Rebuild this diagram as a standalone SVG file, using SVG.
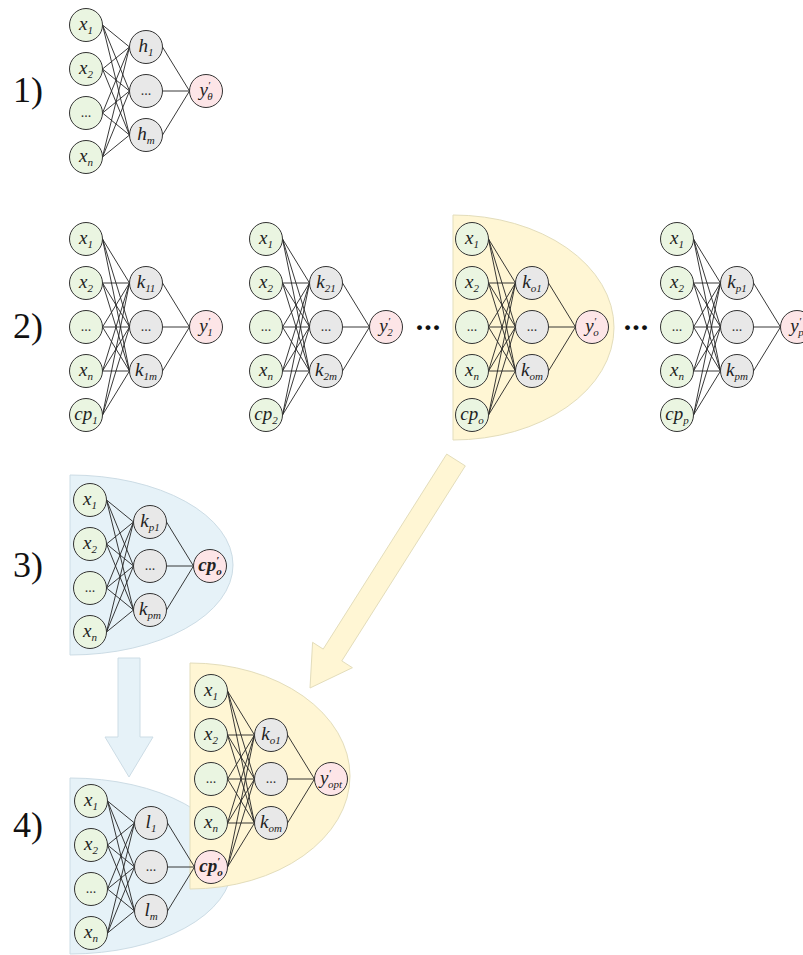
<svg xmlns="http://www.w3.org/2000/svg" xmlns:xlink="http://www.w3.org/1999/xlink" width="803" height="955" viewBox="0 0 803 955">
<style>
.ni{fill:#EAF5E1;stroke:#333;stroke-width:1}
.nh{fill:#E8E8E8;stroke:#333;stroke-width:1}
.no{fill:#FDE5E7;stroke:#333;stroke-width:1}
text{font-family:"Times New Roman","Liberation Serif",Tinos,"Noto Serif","DejaVu Serif",serif}
.t{font-style:italic;font-size:19px;text-anchor:middle;fill:#222}
.s{font-size:11px}
.b{font-weight:bold}
.d{font-size:14px;text-anchor:middle;fill:#333}
.num{font-size:36px;fill:#111}
.bd{font-size:30px;font-weight:bold;text-anchor:middle;fill:#111;letter-spacing:1px}
.ry{fill:#FFF6D4;stroke:#E3DDBB;stroke-width:1}
.rb{fill:#E6F2F8;stroke:#CCDCE5;stroke-width:1}
</style>
<defs>
<path id="netA" d="M102.5 25L129.5 47M102.5 25L129.5 91M102.5 25L129.5 135M102.5 69L129.5 47M102.5 69L129.5 91M102.5 69L129.5 135M102.5 113L129.5 47M102.5 113L129.5 91M102.5 113L129.5 135M102.5 157L129.5 47M102.5 157L129.5 91M102.5 157L129.5 135M162.5 47L189.5 91M162.5 91L189.5 91M162.5 135L189.5 91"/>
<path id="netB" d="M102.5 239L129.5 283M102.5 239L129.5 327M102.5 239L129.5 371M102.5 283L129.5 283M102.5 283L129.5 327M102.5 283L129.5 371M102.5 327L129.5 283M102.5 327L129.5 327M102.5 327L129.5 371M102.5 371L129.5 283M102.5 371L129.5 327M102.5 371L129.5 371M102.5 415L129.5 283M102.5 415L129.5 327M102.5 415L129.5 371M162.5 283L189.5 327M162.5 327L189.5 327M162.5 371L189.5 327"/>
</defs>
<rect width="803" height="955" fill="#fff"/>

<g id="regions">
<path id="region-2o" class="ry" d="M453 215A161 112.5 0 0 1 453 440Z"/>
<path id="region-3" class="rb" d="M70 475A163 90 0 0 1 70 655Z"/>
<path id="region-4b" class="rb" d="M70 778A162 88 0 0 1 70 954Z"/>
<path id="region-4y" class="ry" d="M190 663A160 113 0 0 1 190 889Z"/>
<polygon id="arrow-yellow" class="ry" points="446.7,454.1 465.3,465.9 341.8,660.9 352.4,667.7 310,688 312.6,642.3 323.2,649.1"/>
<polygon id="arrow-blue" class="rb" points="118,658 140,658 140,737 153,737 129,777 105,737 118,737"/>
</g>

<g id="labels">
<text class="num" x="13" y="102">1)</text>
<text class="num" x="13" y="338">2)</text>
<text class="num" x="13" y="577">3)</text>
<text class="num" x="13" y="837">4)</text>
<text class="bd" x="428.5" y="330">...</text>
<text class="bd" x="636.5" y="330">...</text>
</g>

<g id="connectors" fill="none" stroke="#222" stroke-width="0.9">
<use href="#netA"/>
<use href="#netB"/>
<use href="#netB" x="180"/>
<use href="#netB" x="386"/>
<use href="#netB" x="591"/>
<use href="#netA" x="4" y="475"/>
<use href="#netA" x="5" y="776"/>
<use href="#netB" x="125" y="452"/>
</g>

<g id="nodes">
<!-- Section 1 -->
<g id="s1-x1"><circle class="ni" cx="86" cy="25" r="16.5"/><text class="t" x="86" y="30">x<tspan class="s" dy="4">1</tspan></text></g>
<g id="s1-x2"><circle class="ni" cx="86" cy="69" r="16.5"/><text class="t" x="86" y="74">x<tspan class="s" dy="4">2</tspan></text></g>
<g id="s1-xd"><circle class="ni" cx="86" cy="113" r="16.5"/><text class="d" x="86" y="117">...</text></g>
<g id="s1-xn"><circle class="ni" cx="86" cy="157" r="16.5"/><text class="t" x="86" y="162">x<tspan class="s" dy="4">n</tspan></text></g>
<g id="s1-h1"><circle class="nh" cx="146" cy="47" r="16.5"/><text class="t" x="146" y="52">h<tspan class="s" dy="4">1</tspan></text></g>
<g id="s1-hd"><circle class="nh" cx="146" cy="91" r="16.5"/><text class="d" x="146" y="95">...</text></g>
<g id="s1-hm"><circle class="nh" cx="146" cy="135" r="16.5"/><text class="t" x="146" y="140">h<tspan class="s" dy="4">m</tspan></text></g>
<g id="s1-y"><circle class="no" cx="206" cy="91" r="16.5"/><text class="t" x="206" y="96">y<tspan class="s" dy="-7">′</tspan><tspan class="s" dx="-3" dy="11">θ</tspan></text></g>

<!-- Row 2, network 1 -->
<g id="n1-x1"><circle class="ni" cx="86" cy="239" r="16.5"/><text class="t" x="86" y="244">x<tspan class="s" dy="4">1</tspan></text></g>
<g id="n1-x2"><circle class="ni" cx="86" cy="283" r="16.5"/><text class="t" x="86" y="288">x<tspan class="s" dy="4">2</tspan></text></g>
<g id="n1-xd"><circle class="ni" cx="86" cy="327" r="16.5"/><text class="d" x="86" y="331">...</text></g>
<g id="n1-xn"><circle class="ni" cx="86" cy="371" r="16.5"/><text class="t" x="86" y="376">x<tspan class="s" dy="4">n</tspan></text></g>
<g id="n1-cp"><circle class="ni" cx="86" cy="415" r="16.5"/><text class="t" x="86" y="420">cp<tspan class="s" dy="4">1</tspan></text></g>
<g id="n1-k1"><circle class="nh" cx="146" cy="283" r="16.5"/><text class="t" x="146" y="288">k<tspan class="s" dy="4">11</tspan></text></g>
<g id="n1-kd"><circle class="nh" cx="146" cy="327" r="16.5"/><text class="d" x="146" y="331">...</text></g>
<g id="n1-km"><circle class="nh" cx="146" cy="371" r="16.5"/><text class="t" x="146" y="376">k<tspan class="s" dy="4">1m</tspan></text></g>
<g id="n1-y"><circle class="no" cx="206" cy="327" r="16.5"/><text class="t" x="206" y="332">y<tspan class="s" dy="-7">′</tspan><tspan class="s" dx="-3" dy="11">1</tspan></text></g>

<!-- Row 2, network 2 -->
<g id="n2-x1"><circle class="ni" cx="266" cy="239" r="16.5"/><text class="t" x="266" y="244">x<tspan class="s" dy="4">1</tspan></text></g>
<g id="n2-x2"><circle class="ni" cx="266" cy="283" r="16.5"/><text class="t" x="266" y="288">x<tspan class="s" dy="4">2</tspan></text></g>
<g id="n2-xd"><circle class="ni" cx="266" cy="327" r="16.5"/><text class="d" x="266" y="331">...</text></g>
<g id="n2-xn"><circle class="ni" cx="266" cy="371" r="16.5"/><text class="t" x="266" y="376">x<tspan class="s" dy="4">n</tspan></text></g>
<g id="n2-cp"><circle class="ni" cx="266" cy="415" r="16.5"/><text class="t" x="266" y="420">cp<tspan class="s" dy="4">2</tspan></text></g>
<g id="n2-k1"><circle class="nh" cx="326" cy="283" r="16.5"/><text class="t" x="326" y="288">k<tspan class="s" dy="4">21</tspan></text></g>
<g id="n2-kd"><circle class="nh" cx="326" cy="327" r="16.5"/><text class="d" x="326" y="331">...</text></g>
<g id="n2-km"><circle class="nh" cx="326" cy="371" r="16.5"/><text class="t" x="326" y="376">k<tspan class="s" dy="4">2m</tspan></text></g>
<g id="n2-y"><circle class="no" cx="386" cy="327" r="16.5"/><text class="t" x="386" y="332">y<tspan class="s" dy="-7">′</tspan><tspan class="s" dx="-3" dy="11">2</tspan></text></g>

<!-- Row 2, network o -->
<g id="no-x1"><circle class="ni" cx="472" cy="239" r="16.5"/><text class="t" x="472" y="244">x<tspan class="s" dy="4">1</tspan></text></g>
<g id="no-x2"><circle class="ni" cx="472" cy="283" r="16.5"/><text class="t" x="472" y="288">x<tspan class="s" dy="4">2</tspan></text></g>
<g id="no-xd"><circle class="ni" cx="472" cy="327" r="16.5"/><text class="d" x="472" y="331">...</text></g>
<g id="no-xn"><circle class="ni" cx="472" cy="371" r="16.5"/><text class="t" x="472" y="376">x<tspan class="s" dy="4">n</tspan></text></g>
<g id="no-cp"><circle class="ni" cx="472" cy="415" r="16.5"/><text class="t" x="472" y="420">cp<tspan class="s" dy="4">o</tspan></text></g>
<g id="no-k1"><circle class="nh" cx="532" cy="283" r="16.5"/><text class="t" x="532" y="288">k<tspan class="s" dy="4">o1</tspan></text></g>
<g id="no-kd"><circle class="nh" cx="532" cy="327" r="16.5"/><text class="d" x="532" y="331">...</text></g>
<g id="no-km"><circle class="nh" cx="532" cy="371" r="16.5"/><text class="t" x="532" y="376">k<tspan class="s" dy="4">om</tspan></text></g>
<g id="no-y"><circle class="no" cx="592" cy="327" r="16.5"/><text class="t" x="592" y="332">y<tspan class="s" dy="-7">′</tspan><tspan class="s" dx="-3" dy="11">o</tspan></text></g>

<!-- Row 2, network p -->
<g id="np-x1"><circle class="ni" cx="677" cy="239" r="16.5"/><text class="t" x="677" y="244">x<tspan class="s" dy="4">1</tspan></text></g>
<g id="np-x2"><circle class="ni" cx="677" cy="283" r="16.5"/><text class="t" x="677" y="288">x<tspan class="s" dy="4">2</tspan></text></g>
<g id="np-xd"><circle class="ni" cx="677" cy="327" r="16.5"/><text class="d" x="677" y="331">...</text></g>
<g id="np-xn"><circle class="ni" cx="677" cy="371" r="16.5"/><text class="t" x="677" y="376">x<tspan class="s" dy="4">n</tspan></text></g>
<g id="np-cp"><circle class="ni" cx="677" cy="415" r="16.5"/><text class="t" x="677" y="420">cp<tspan class="s" dy="4">p</tspan></text></g>
<g id="np-k1"><circle class="nh" cx="737" cy="283" r="16.5"/><text class="t" x="737" y="288">k<tspan class="s" dy="4">p1</tspan></text></g>
<g id="np-kd"><circle class="nh" cx="737" cy="327" r="16.5"/><text class="d" x="737" y="331">...</text></g>
<g id="np-km"><circle class="nh" cx="737" cy="371" r="16.5"/><text class="t" x="737" y="376">k<tspan class="s" dy="4">pm</tspan></text></g>
<g id="np-y"><circle class="no" cx="797" cy="327" r="16.5"/><text class="t" x="797" y="332">y<tspan class="s" dy="-7">′</tspan><tspan class="s" dx="-3" dy="11">p</tspan></text></g>

<!-- Section 3 -->
<g id="s3-x1"><circle class="ni" cx="90" cy="500" r="16.5"/><text class="t" x="90" y="505">x<tspan class="s" dy="4">1</tspan></text></g>
<g id="s3-x2"><circle class="ni" cx="90" cy="544" r="16.5"/><text class="t" x="90" y="549">x<tspan class="s" dy="4">2</tspan></text></g>
<g id="s3-xd"><circle class="ni" cx="90" cy="588" r="16.5"/><text class="d" x="90" y="592">...</text></g>
<g id="s3-xn"><circle class="ni" cx="90" cy="632" r="16.5"/><text class="t" x="90" y="637">x<tspan class="s" dy="4">n</tspan></text></g>
<g id="s3-k1"><circle class="nh" cx="150" cy="522" r="16.5"/><text class="t" x="150" y="527">k<tspan class="s" dy="4">p1</tspan></text></g>
<g id="s3-kd"><circle class="nh" cx="150" cy="566" r="16.5"/><text class="d" x="150" y="570">...</text></g>
<g id="s3-km"><circle class="nh" cx="150" cy="610" r="16.5"/><text class="t" x="150" y="615">k<tspan class="s" dy="4">pm</tspan></text></g>
<g id="s3-cp"><circle class="no" cx="210" cy="566" r="16.5"/><text class="t b" x="210" y="571">cp<tspan class="s" dy="-7">′</tspan><tspan class="s" dx="-3" dy="11">o</tspan></text></g>

<!-- Section 4, blue network -->
<g id="s4b-x1"><circle class="ni" cx="91" cy="801" r="16.5"/><text class="t" x="91" y="806">x<tspan class="s" dy="4">1</tspan></text></g>
<g id="s4b-x2"><circle class="ni" cx="91" cy="845" r="16.5"/><text class="t" x="91" y="850">x<tspan class="s" dy="4">2</tspan></text></g>
<g id="s4b-xd"><circle class="ni" cx="91" cy="889" r="16.5"/><text class="d" x="91" y="893">...</text></g>
<g id="s4b-xn"><circle class="ni" cx="91" cy="933" r="16.5"/><text class="t" x="91" y="938">x<tspan class="s" dy="4">n</tspan></text></g>
<g id="s4b-l1"><circle class="nh" cx="151" cy="823" r="16.5"/><text class="t" x="151" y="828">l<tspan class="s" dy="4">1</tspan></text></g>
<g id="s4b-ld"><circle class="nh" cx="151" cy="867" r="16.5"/><text class="d" x="151" y="871">...</text></g>
<g id="s4b-lm"><circle class="nh" cx="151" cy="911" r="16.5"/><text class="t" x="151" y="916">l<tspan class="s" dy="4">m</tspan></text></g>
<g id="s4-cp"><circle class="no" cx="211" cy="867" r="16.5"/><text class="t b" x="211" y="872">cp<tspan class="s" dy="-7">′</tspan><tspan class="s" dx="-3" dy="11">o</tspan></text></g>

<!-- Section 4, yellow network -->
<g id="s4y-x1"><circle class="ni" cx="211" cy="691" r="16.5"/><text class="t" x="211" y="696">x<tspan class="s" dy="4">1</tspan></text></g>
<g id="s4y-x2"><circle class="ni" cx="211" cy="735" r="16.5"/><text class="t" x="211" y="740">x<tspan class="s" dy="4">2</tspan></text></g>
<g id="s4y-xd"><circle class="ni" cx="211" cy="779" r="16.5"/><text class="d" x="211" y="783">...</text></g>
<g id="s4y-xn"><circle class="ni" cx="211" cy="823" r="16.5"/><text class="t" x="211" y="828">x<tspan class="s" dy="4">n</tspan></text></g>
<g id="s4y-k1"><circle class="nh" cx="271" cy="735" r="16.5"/><text class="t" x="271" y="740">k<tspan class="s" dy="4">o1</tspan></text></g>
<g id="s4y-kd"><circle class="nh" cx="271" cy="779" r="16.5"/><text class="d" x="271" y="783">...</text></g>
<g id="s4y-km"><circle class="nh" cx="271" cy="823" r="16.5"/><text class="t" x="271" y="828">k<tspan class="s" dy="4">om</tspan></text></g>
<g id="s4y-y"><circle class="no" cx="331" cy="779" r="16.5"/><text class="t" x="331" y="784">y<tspan class="s" dy="-7">′</tspan><tspan class="s" dx="-3" dy="11">opt</tspan></text></g>
</g>
</svg>
